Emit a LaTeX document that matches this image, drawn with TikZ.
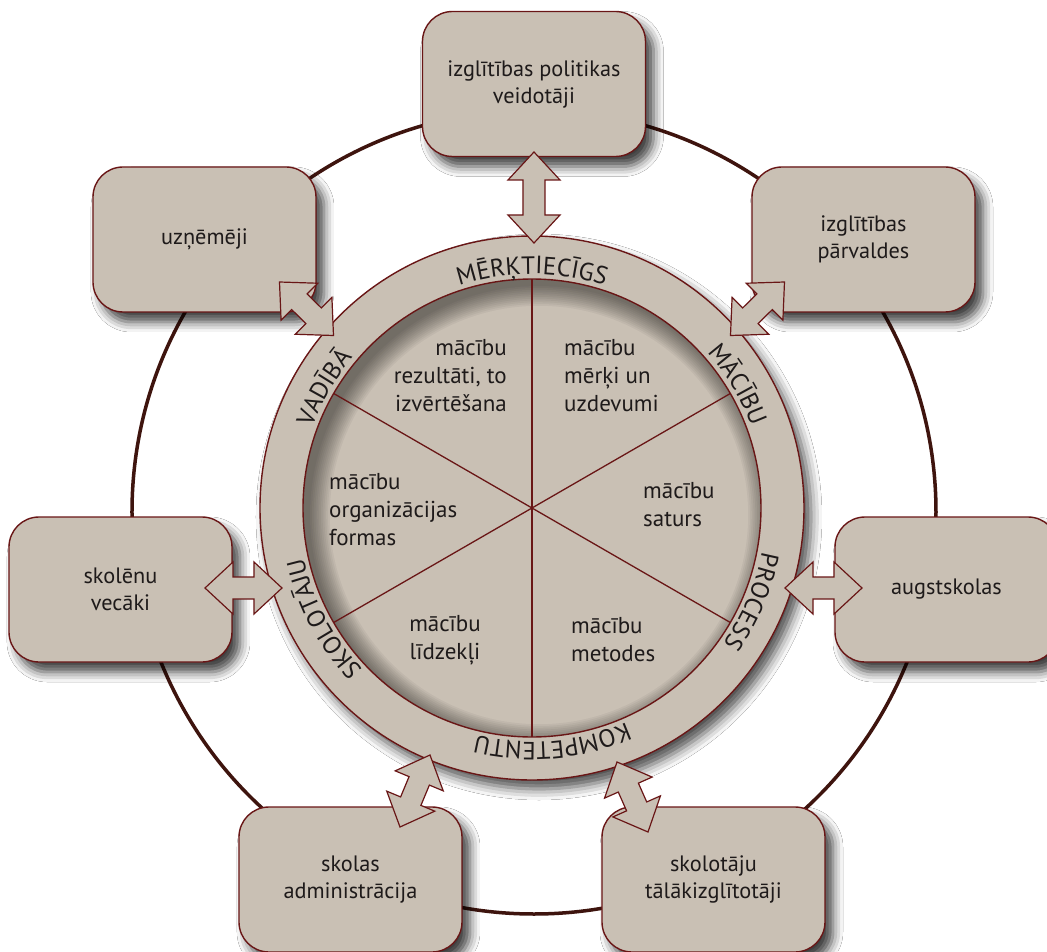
\documentclass[tikz,border=0pt]{standalone}
\usepackage{fontspec}
\setmainfont{PT Sans}
\usetikzlibrary{calc,decorations.text,shadows.blur}
\definecolor{beige}{RGB}{201,192,180}
\definecolor{maroon}{RGB}{105,22,22}
\definecolor{ringline}{RGB}{62,20,14}
\definecolor{ink}{RGB}{30,26,26}
\tikzset{
  box/.style={draw=maroon, line width=1.4pt, fill=beige, rounded corners=30pt,
    minimum width=223pt, minimum height=145pt, align=center, text=ink,
    font=\fontsize{22.3}{27}\selectfont,
    blur shadow={shadow xshift=8pt, shadow yshift=-10pt, shadow blur radius=10pt, shadow opacity=75}},
  intext/.style={text=ink, font=\fontsize{23}{28}\selectfont, inner sep=0pt},
  blockarrow/.style={draw=maroon, line width=1.2pt, fill=beige, line join=miter, to path={
     -- ($(\tikztostart)!28pt!(\tikztotarget)!26pt!90:(\tikztotarget)$)
     -- ($(\tikztostart)!28pt!(\tikztotarget)!11pt!90:(\tikztotarget)$)
     -- ($(\tikztotarget)!28pt!(\tikztostart)!11pt!-90:(\tikztostart)$)
     -- ($(\tikztotarget)!28pt!(\tikztostart)!26pt!-90:(\tikztostart)$)
     -- (\tikztotarget)
     -- ($(\tikztotarget)!28pt!(\tikztostart)!26pt!90:(\tikztostart)$)
     -- ($(\tikztotarget)!28pt!(\tikztostart)!11pt!90:(\tikztostart)$)
     -- ($(\tikztostart)!28pt!(\tikztotarget)!11pt!-90:(\tikztotarget)$)
     -- ($(\tikztostart)!28pt!(\tikztotarget)!26pt!-90:(\tikztotarget)$)
     -- cycle}},
}
\newcommand\ringlabel[2]{%
  \path[decorate, decoration={text along path, text align=center, text color=ink,
     text={|\fontsize{25}{25}\selectfont|#2}}]
     ({#1+32}:234) arc[start angle={#1+32}, end angle={#1-32}, radius=234];}
\begin{document}
\begin{tikzpicture}[x=1pt,y=1pt]
\useasboundingbox (-532,-443) rectangle (515,508);
\clip (-532,-443) rectangle (515,508);
\fill[white] (-532,-443) rectangle (515,508);
% big thin circle
\draw[ringline, line width=3.5pt] (2,-4) circle (402);
% boxes
\node[box] (pol) at (2,424) {izglītības politikas\\veidotāji};
\node[box] (uzn) at (-327.5,268.5) {uzņēmēji};
\node[box] (parv) at (331.5,268.5) {izglītības\\pārvaldes};
\node[box] (augst) at (414.5,-81.5) {augstskolas};
\node[box] (vec) at (-411.5,-81.5) {skolēnu\\vecāki};
\node[box] (adm) at (-181.5,-371.5) {skolas\\administrācija};
\node[box] (tal) at (181.5,-371.5) {skolotāju\\tālākizglītotāji};
% wheel
\node[circle, draw=maroon, line width=1.4pt, fill=beige, minimum size=544pt, inner sep=0pt,
  blur shadow={shadow xshift=7pt, shadow yshift=-9pt, shadow blur radius=11pt, shadow opacity=70}] (wheel) at (0,0) {};
\node[circle, fill=beige, minimum size=458pt, inner sep=0pt] (disc) at (0,0) {};
\begin{scope}
  \clip (0,0) circle (229);
  \foreach \k in {0,...,11}{
    \fill[black, opacity=0.045, even odd rule] (-300,-300) rectangle (300,300) (7,-7) circle ({229-1.8*\k});
  }
\end{scope}
\draw[maroon, line width=1.4pt] (0,0) circle (229);
\foreach \a in {30,90,...,330}{
  \draw[maroon, line width=1.3pt] (0,0) -- (\a:229);
}
% ring words
\ringlabel{90}{MĒRĶTIECĪGS}
\ringlabel{31}{MĀCĪBU}
\ringlabel{-23}{PROCESS}
\ringlabel{-85}{KOMPETENTU}
\ringlabel{208}{SKOLOTĀJU}
\ringlabel{150}{VADĪBĀ}
% inner texts
\node[intext, anchor=east, align=right] (rez) at (-25,132) {mācību\\rezultāti, to\\izvērtēšana};
\node[intext, anchor=west, align=left] (merk) at (32,132) {mācību\\mērķi un\\uzdevumi};
\node[intext, anchor=west, align=left] (sat) at (111,3) {mācību\\saturs};
\node[intext, anchor=west, align=left] (met) at (39,-132) {mācību\\metodes};
\node[intext, align=center] (lid) at (-87,-132) {mācību\\līdzekļi};
\node[intext, anchor=west, align=left] (org) at (-203,-2) {mācību\\organizācijas\\formas};
% arrow end points
\coordinate (a1) at (2,356);      \coordinate (b1) at (2,265);
\coordinate (a2) at (-252.5,226); \coordinate (b2) at (-198.5,172.5);
\coordinate (a3) at (252.5,226);  \coordinate (b3) at (198.5,172.5);
\coordinate (a4) at (330,-80);    \coordinate (b4) at (253,-80);
\coordinate (a5) at (-327,-80);   \coordinate (b5) at (-250,-80);
\coordinate (a6) at (-132,-319);  \coordinate (b6) at (-102,-247);
\coordinate (a7) at (116,-324);   \coordinate (b7) at (85,-254);
\foreach \i in {1,...,7}{
  \draw[blockarrow] (a\i) to (b\i);
}
\end{tikzpicture}
\end{document}
